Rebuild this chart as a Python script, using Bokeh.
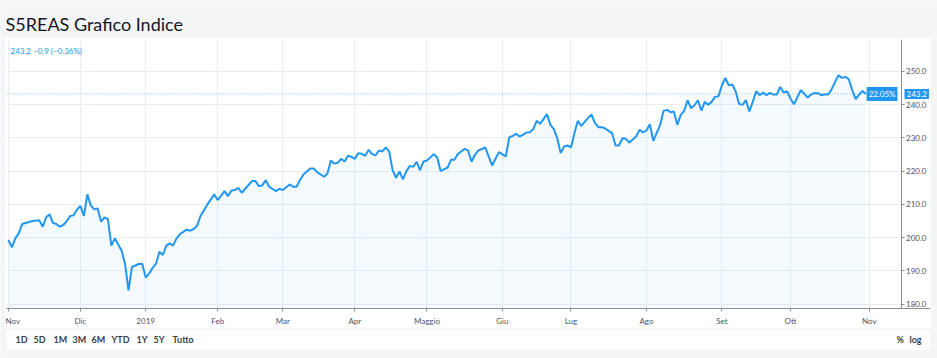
from bokeh.plotting import figure
from bokeh.layouts import column, row
from bokeh.models import Range1d, FixedTicker, Label, BoxAnnotation, NumeralTickFormatter, LinearAxis
from bokeh.embed import file_html
from bokeh.resources import INLINE

# ---- data (trading-session index from 1 Nov 2018, index level) ----
sessions = [0, 1, 2, 3, 4, 5, 7, 9, 10, 11, 12, 13, 14, 15, 16, 17, 18, 19, 20, 21,
            22, 23, 24, 25, 26, 27, 28, 29, 30, 31, 33, 34, 35, 36, 38, 39, 40, 41, 42, 43,
            44, 45, 46, 47, 48, 49, 50, 52, 53, 54, 55, 56, 58, 60, 61, 63, 64, 65, 66, 67,
            68, 69, 71, 72, 73, 74, 75, 76, 78, 79, 80, 82, 83, 84, 85, 86, 88, 89, 90, 92,
            93, 94, 95, 96, 97, 98, 99, 100, 101, 102, 103, 104, 105, 106, 107, 108, 109, 110, 111, 112,
            113, 114, 115, 116, 117, 118, 119, 120, 121, 122, 124, 125, 126, 127, 128, 129, 130, 131, 133, 134,
            135, 136, 137, 139, 141, 142, 143, 145, 146, 147, 148, 149, 150, 151, 152, 153, 154, 155, 157, 158,
            159, 160, 161, 162, 163, 164, 165, 166, 167, 168, 169, 170, 171, 172, 173, 174, 175, 176, 177, 178,
            179, 180, 181, 183, 184, 185, 186, 187, 188, 190, 191, 192, 193, 194, 195, 196, 197, 198, 199, 200,
            201, 202, 203, 204, 205, 206, 207, 208, 209, 210, 211, 212, 213, 214, 215, 216, 217, 218, 219, 220,
            221, 222, 223, 224, 225, 226, 227, 228, 229, 231, 232, 233, 234, 235, 236, 237, 238, 239, 240, 241,
            242, 243, 244, 245, 246, 247, 248, 249, 250]
values = [199.3, 197.1, 199.8, 201.3, 204.1, 204.4, 205.0, 205.2, 203.3, 206.1, 207.0, 204.4, 204.1, 203.3, 203.8, 205.0, 206.5, 206.7, 208.5, 209.5,
          206.5, 213.0, 209.7, 208.5, 208.8, 204.8, 206.1, 205.6, 197.6, 199.8, 196.1, 192.1, 184.2, 191.2, 192.1, 192.2, 188.0, 189.2, 190.9, 192.1,
          195.8, 194.8, 197.6, 198.3, 197.6, 199.8, 201.1, 202.4, 202.1, 202.6, 203.6, 206.5, 210.0, 213.0, 211.3, 214.0, 212.5, 214.2, 214.3, 215.0,
          213.5, 214.7, 217.0, 217.0, 215.5, 215.7, 217.3, 215.3, 214.0, 214.7, 214.3, 216.0, 215.3, 215.3, 217.3, 219.0, 220.8, 220.8, 219.7, 218.3,
          219.3, 223.2, 222.3, 222.5, 223.7, 222.9, 224.6, 224.3, 223.7, 225.4, 225.2, 224.6, 226.4, 225.2, 224.7, 226.2, 225.9, 227.1, 225.9, 220.3,
          218.0, 219.9, 217.5, 220.0, 221.5, 221.3, 222.8, 220.3, 222.9, 223.2, 225.1, 224.1, 220.0, 220.6, 221.0, 223.4, 223.4, 225.1, 226.7, 226.2,
          222.8, 224.9, 226.2, 227.1, 221.7, 223.7, 225.7, 224.4, 230.1, 230.6, 231.2, 230.4, 230.9, 231.6, 231.7, 232.6, 235.1, 234.2, 237.1, 233.9,
          232.6, 229.9, 225.4, 227.4, 227.7, 227.1, 231.4, 235.1, 233.6, 234.8, 236.0, 237.0, 234.4, 233.2, 233.2, 232.8, 232.1, 231.4, 227.7, 227.7,
          229.9, 229.7, 228.6, 230.4, 232.4, 231.6, 232.2, 234.1, 229.1, 233.9, 238.1, 238.4, 237.7, 237.9, 233.9, 236.9, 238.1, 241.3, 238.9, 239.8,
          241.3, 238.2, 240.8, 239.9, 240.8, 242.3, 242.5, 245.8, 248.0, 245.8, 246.0, 244.0, 240.2, 239.9, 241.3, 237.9, 240.8, 244.0, 242.8, 243.6,
          242.8, 243.5, 243.0, 243.0, 245.3, 243.6, 244.0, 241.8, 240.1, 244.3, 243.3, 242.1, 243.0, 243.5, 243.4, 242.8, 243.1, 243.0, 244.6, 246.8,
          248.8, 248.0, 248.3, 247.6, 244.3, 241.6, 243.0, 244.1, 243.2]

month_ticks = [0, 21, 40, 61, 80, 101, 122, 144, 164, 186, 208, 228, 251]
month_labels = ["Nov", "Dic", "2019", "Feb", "Mar", "Apr", "Maggio", "Giu", "Lug", "Ago", "Set", "Ott", "Nov"]
price_ticks = [180, 190, 200, 210, 220, 230, 240, 250]

title_text = "S5REAS Grafico Indice"
last_value = 243.2
change = -0.9
change_pct = -0.36
perf_pct = 22.05
range_buttons = ["1D", "5D", "1M", "3M", "6M", "YTD", "1Y", "5Y", "Tutto"]

# ---- styling / layout constants ----
FONT = "Lato"
BLUE = "#2196f3"
PAGE = "#f4f5f7"
TEXT = "#50535e"
AXIS = "#8a8d96"
GRID = "#e9eef4"
BTN = "#3a3e48"
W = 937

x_lo, x_hi = -0.57, 268.82      # plot frame spans the whole card width
axis_x = 260.36                 # where the price scale sits
y_lo, y_hi = 178.72, 259.54


def canvas_box(fig, l, r, t, b, color, level="underlay", line=None, radius=0):
    fig.add_layout(BoxAnnotation(left=l, right=r, top=t, bottom=b,
                                 left_units="canvas", right_units="canvas",
                                 top_units="canvas", bottom_units="canvas",
                                 fill_color=color, fill_alpha=1.0, line_color=line,
                                 border_radius=radius, level=level))


def canvas_label(fig, x, y, text, size="10px", color=BTN, style="normal", align="left",
                 baseline="middle", y_units="canvas", bg=None):
    kw = {}
    if bg is not None:
        kw = dict(background_fill_color=bg, padding=2)
    fig.add_layout(Label(x=x, y=y, x_units="canvas", y_units=y_units, text=text,
                         text_font=FONT, text_font_size=size, text_color=color,
                         text_font_style=style, text_align=align, text_baseline=baseline,
                         **kw))


def blank(width, height, color=PAGE):
    f = figure(width=width, height=height, output_backend="svg", toolbar_location=None,
               x_range=Range1d(0, width), y_range=Range1d(0, height),
               x_axis_location=None, y_axis_location=None, min_border=0,
               background_fill_color=color, border_fill_color=color, outline_line_color=None)
    f.xgrid.visible = False
    f.ygrid.visible = False
    return f


# ---------------- header (page title) ----------------
head = blank(W, 38)
canvas_label(head, 5, 23, title_text, size="18px", color="#131722", baseline="alphabetic")

# ---------------- main chart ----------------
p = figure(width=925, height=290, output_backend="svg", toolbar_location=None,
           x_range=Range1d(x_lo, x_hi), y_range=Range1d(y_lo, y_hi),
           y_axis_location=None,
           min_border_left=1, min_border_right=0, min_border_top=1, min_border_bottom=18,
           background_fill_color="white", border_fill_color="white", outline_line_color=None)

# price scale: drawn at axis_x inside the card, labels to its right
ya = LinearAxis(fixed_location=axis_x)
ya.ticker = FixedTicker(ticks=price_ticks)
ya.formatter = NumeralTickFormatter(format="0.0")
ya.minor_tick_line_color = None
ya.major_tick_in = 3
ya.major_tick_out = 0
ya.major_tick_line_color = AXIS
ya.axis_line_color = AXIS
ya.major_label_standoff = -25
ya.major_label_text_font = FONT
ya.major_label_text_font_size = "8px"
ya.major_label_text_color = TEXT
p.add_layout(ya, "left")

xa = p.xaxis[0]
xa.ticker = FixedTicker(ticks=month_ticks)
xa.major_label_overrides = {t: l for t, l in zip(month_ticks, month_labels)}
xa.minor_tick_line_color = None
xa.major_tick_in = 0
xa.major_tick_out = 3
xa.major_tick_line_color = AXIS
xa.axis_line_color = AXIS
xa.major_label_standoff = 4
xa.major_label_text_font = FONT
xa.major_label_text_font_size = "8px"
xa.major_label_text_color = TEXT

p.xgrid.grid_line_color = GRID
p.ygrid.grid_line_color = GRID
p.ygrid.ticker = FixedTicker(ticks=price_ticks)

# blank the price-scale strip (hides grid lines there)
canvas_box(p, 897, 926, 0, 272, "white")

# series
p.varea(x=sessions, y1=y_lo, y2=values, fill_color=BLUE, fill_alpha=0.05)
p.line(sessions, values, line_color=BLUE, line_width=2)

# last-price dotted line across the plotting area
p.line([x_lo, axis_x], [last_value, last_value], line_color=BLUE, line_alpha=0.7,
       line_dash="1 2", line_width=1)

canvas_label(p, 5, 12, f"{last_value:.1f} \u2212{abs(change):.1f} (\u2212{abs(change_pct):.2f}%)",
             size="8px", color=BLUE)
canvas_label(p, 892, last_value, f"{perf_pct:.2f}%", size="8px", color="white", align="right",
             y_units="data", bg=BLUE)
canvas_label(p, 899, last_value, f"{last_value:.1f}", size="8px", color="white", align="left",
             y_units="data", bg=BLUE)

mid = row(blank(5, 290), p, blank(7, 290), spacing=0)

# ---------------- footer (range buttons) ----------------
foot = blank(W, 30)
canvas_box(foot, 5, 930, -6, 22, "white", line="#e3e5ea", radius=4)
canvas_box(foot, 6, 929, 0, 1, "#e9ebef")

btn_x = [15, 33, 53, 72, 91, 111, 136, 153, 172]
for bx, b in zip(btn_x, range_buttons):
    canvas_label(foot, bx, 11, b, size="9px", style="bold")
canvas_label(foot, 896, 11, "%", size="9px", style="bold")
canvas_label(foot, 909, 11, "log", size="9px", style="bold")

layout = column(head, mid, foot, spacing=0)
open("out.html", "w").write(file_html(layout, INLINE))
